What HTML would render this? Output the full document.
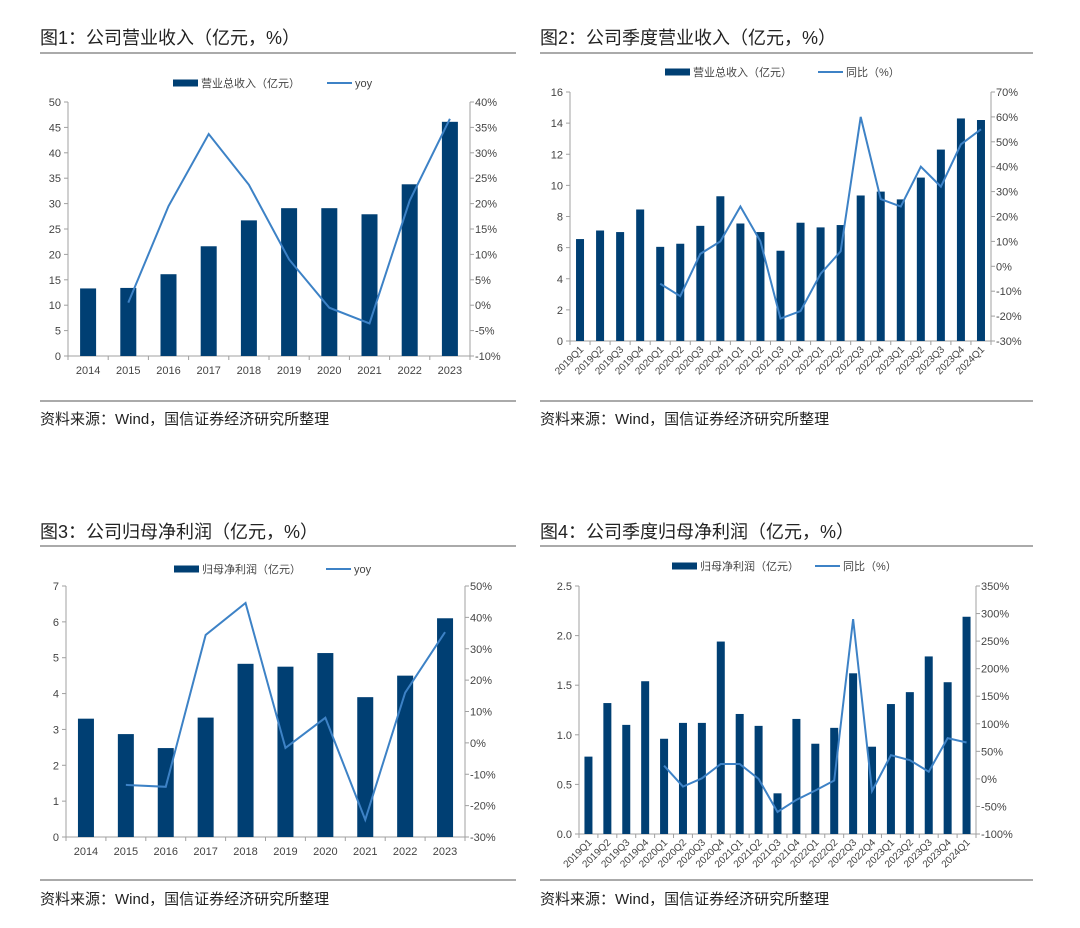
<!DOCTYPE html>
<html><head><meta charset="utf-8"><style>
body{margin:0;background:#fff;}
svg{display:block;font-family:"Liberation Sans","Noto Sans CJK SC",sans-serif;}
</style></head><body>
<svg id="s" width="1080" height="928" viewBox="0 0 1080 928"></svg>
<script>
// Chart 1 data
const c1Categories=["2014","2015","2016","2017","2018","2019","2020","2021","2022","2023"];
const c1Bars=[13.3,13.4,16.1,21.6,26.7,29.1,29.1,27.9,33.8,46.1];
const c1Line=[null,0.5,19.5,33.7,23.7,9,-0.5,-3.6,20.6,36.7];
const c1LeftTicks=[0,5,10,15,20,25,30,35,40,45,50];
const c1RightTicks=[-10,-5,0,5,10,15,20,25,30,35,40];
// Chart 2 data
const c2Categories=["2019Q1","2019Q2","2019Q3","2019Q4","2020Q1","2020Q2","2020Q3","2020Q4","2021Q1","2021Q2","2021Q3","2021Q4","2022Q1","2022Q2","2022Q3","2022Q4","2023Q1","2023Q2","2023Q3","2023Q4","2024Q1"];
const c2Bars=[6.55,7.1,7.0,8.45,6.05,6.25,7.4,9.3,7.55,7.0,5.8,7.6,7.3,7.45,9.35,9.6,9.1,10.5,12.3,14.3,14.2];
const c2Line=[null,null,null,null,-7,-12,5,10,24,10,-21,-18,-3,6,60,27,24,40,32,49,55];
const c2LeftTicks=[0,2,4,6,8,10,12,14,16];
const c2RightTicks=[-30,-20,-10,0,10,20,30,40,50,60,70];
// Chart 3 data
const c3Categories=["2014","2015","2016","2017","2018","2019","2020","2021","2022","2023"];
const c3Bars=[3.3,2.87,2.48,3.33,4.83,4.75,5.13,3.9,4.5,6.1];
const c3Line=[null,-13.4,-14,34.4,44.6,-1.6,8,-24.5,16,35.3];
const c3LeftTicks=[0,1,2,3,4,5,6,7];
const c3RightTicks=[-30,-20,-10,0,10,20,30,40,50];
// Chart 4 data
const c4Categories=["2019Q1","2019Q2","2019Q3","2019Q4","2020Q1","2020Q2","2020Q3","2020Q4","2021Q1","2021Q2","2021Q3","2021Q4","2022Q1","2022Q2","2022Q3","2022Q4","2023Q1","2023Q2","2023Q3","2023Q4","2024Q1"];
const c4Bars=[0.78,1.32,1.1,1.54,0.96,1.12,1.12,1.94,1.21,1.09,0.41,1.16,0.91,1.07,1.62,0.88,1.31,1.43,1.79,1.53,2.19];
const c4Line=[null,null,null,null,24,-14,1,27,27,0,-60,-38,-21,-3,290,-22,43,34,13,74,66];
const c4LeftTicks=[0,0.5,1.0,1.5,2.0,2.5];
const c4RightTicks=[-100,-50,0,50,100,150,200,250,300,350];

const NS="http://www.w3.org/2000/svg";
const svg=document.getElementById('s');
const BAR="#003f73", LINE="#3d82c6", AX="#a0a0a0", TX="#444";
function mk(tag,attrs,parent,text){const e=document.createElementNS(NS,tag);for(const k in attrs)e.setAttribute(k,attrs[k]);if(text!==undefined)e.textContent=text;(parent||svg).appendChild(e);return e;}

function chart(id,o,cats,bars,line,lt,rt){
  const g=mk('g',{},svg);
  
  
  const t=mk('text',{x:o.fx,y:o.titleY,'font-size':18,fill:'#222'},g,o.title);
  
  
  mk('line',{x1:o.fx,x2:o.fx2,y1:o.rule1,y2:o.rule1,stroke:'#777','stroke-width':1.2},g);
  mk('line',{x1:o.fx,x2:o.fx2,y1:o.rule2,y2:o.rule2,stroke:'#777','stroke-width':1.2},g);
  const src=mk('text',{x:o.fx,y:o.srcY,'font-size':15,fill:'#222'},g,'资料来源：Wind，国信证券经济研究所整理');
  
  
  const lmin=lt[0],lmax=lt[lt.length-1],rmin=rt[0],rmax=rt[rt.length-1];
  const yl=v=>o.bottom-(v-lmin)/(lmax-lmin)*(o.bottom-o.top);
  const yr=v=>o.bottom-(v-rmin)/(rmax-rmin)*(o.bottom-o.top);
  const n=cats.length, step=(o.right-o.left)/n;
  const xc=i=>o.left+step*(i+0.5);
  mk('line',{x1:o.left,x2:o.left,y1:o.top,y2:o.bottom,stroke:AX},g);
  mk('line',{x1:o.right,x2:o.right,y1:o.top,y2:o.bottom,stroke:AX},g);
  mk('line',{x1:o.left,x2:o.right,y1:o.bottom,y2:o.bottom,stroke:AX},g);
  lt.forEach(v=>{const y=yl(v);mk('line',{x1:o.left-4,x2:o.left,y1:y,y2:y,stroke:AX},g);
    const tl=mk('text',{x:o.left-7,y:y+4,'font-size':11,fill:TX,'text-anchor':'end'},g,o.lfmt(v));
    
    });
  rt.forEach(v=>{const y=yr(v);mk('line',{x1:o.right,x2:o.right+4,y1:y,y2:y,stroke:AX},g);
    const tr=mk('text',{x:o.right+5,y:y+4,'font-size':11,fill:TX},g,v+'%');
    
    });
  for(let i=0;i<=n;i++){const x=o.left+step*i;mk('line',{x1:x,x2:x,y1:o.bottom,y2:o.bottom+4,stroke:AX},g);}
  cats.forEach((c,i)=>{
    let tx;
    if(o.rot){tx=mk('text',{x:xc(i)+4,y:o.bottom+9,'font-size':10,fill:TX,'text-anchor':'end',transform:`rotate(-45 ${xc(i)+4} ${o.bottom+9})`},g,c);}
    else{tx=mk('text',{x:xc(i),y:o.bottom+18,'font-size':11,fill:TX,'text-anchor':'middle'},g,c);}
    
    
  });
  bars.forEach((v,i)=>{
    const r=mk('rect',{x:xc(i)-o.bw/2,y:yl(v),width:o.bw,height:o.bottom-yl(v),fill:BAR},g);
    
    
  });
  let d='';line.forEach((v,i)=>{if(v===null)return;d+=(d?'L':'M')+xc(i)+' '+yr(v);});
  const p=mk('path',{d:d,fill:'none',stroke:LINE,'stroke-width':2},g);
  
  
  const lg=mk('g',{},g);
  
  
  mk('rect',{x:o.lg[0],y:o.legY-3.5,width:25,height:7,fill:BAR},lg);
  mk('text',{x:o.lg[0]+28,y:o.legY+4,'font-size':11,fill:TX},lg,o.barName);
  mk('line',{x1:o.lg[1],x2:o.lg[1]+25,y1:o.legY,y2:o.legY,stroke:LINE,'stroke-width':2},lg);
  mk('text',{x:o.lg[1]+28,y:o.legY+4,'font-size':11,fill:TX},lg,o.lineName);
}
const intf=v=>String(v), f1=v=>v.toFixed(1);
chart('chart-annual-revenue',{fx:40,fx2:516,title:'图1：公司营业收入（亿元，%）',titleY:44,rule1:53,rule2:401,srcY:424,
  top:102,bottom:356,left:68,right:470,bw:16,lfmt:intf,rot:false,legY:83,lg:[173,327],barName:'营业总收入（亿元）',lineName:'yoy'},
  c1Categories,c1Bars,c1Line,c1LeftTicks,c1RightTicks);
chart('chart-quarterly-revenue',{fx:540,fx2:1033,title:'图2：公司季度营业收入（亿元，%）',titleY:44,rule1:53,rule2:401,srcY:424,
  top:92,bottom:341,left:570,right:991,bw:8,lfmt:intf,rot:true,legY:72,lg:[665,818],barName:'营业总收入（亿元）',lineName:'同比（%）'},
  c2Categories,c2Bars,c2Line,c2LeftTicks,c2RightTicks);
chart('chart-annual-profit',{fx:40,fx2:516,title:'图3：公司归母净利润（亿元，%）',titleY:538,rule1:546,rule2:880,srcY:904,
  top:586,bottom:837,left:66,right:465,bw:16,lfmt:intf,rot:false,legY:569,lg:[174,326],barName:'归母净利润（亿元）',lineName:'yoy'},
  c3Categories,c3Bars,c3Line,c3LeftTicks,c3RightTicks);
chart('chart-quarterly-profit',{fx:540,fx2:1033,title:'图4：公司季度归母净利润（亿元，%）',titleY:538,rule1:546,rule2:880,srcY:904,
  top:586,bottom:834,left:579,right:976,bw:8,lfmt:f1,rot:true,legY:566,lg:[672,815],barName:'归母净利润（亿元）',lineName:'同比（%）'},
  c4Categories,c4Bars,c4Line,c4LeftTicks,c4RightTicks);
</script>
</body></html>
